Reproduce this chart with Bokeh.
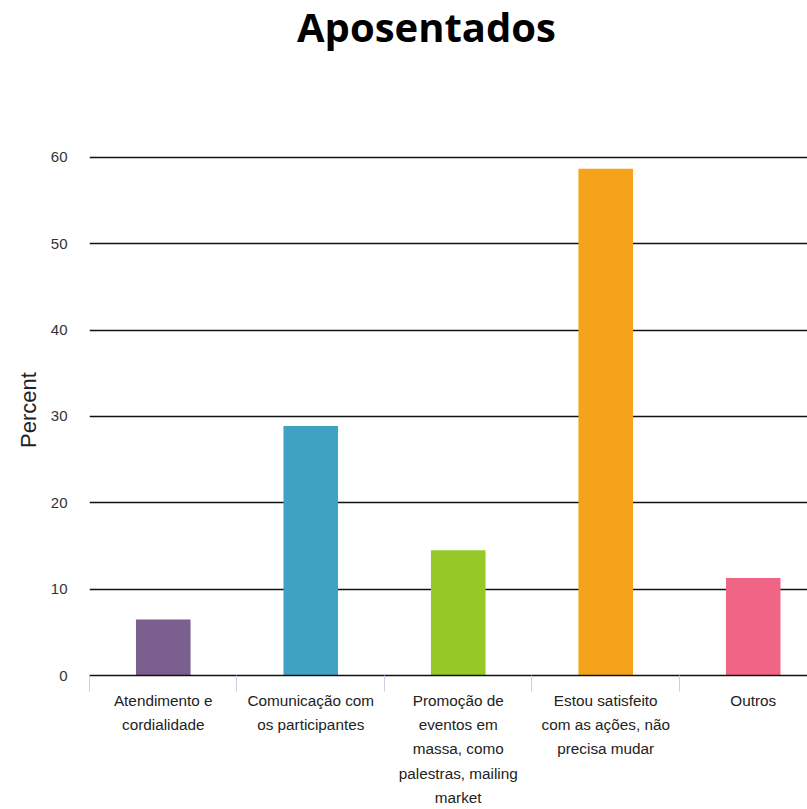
import numpy as np
from bokeh.plotting import figure
from bokeh.models import Range1d, FixedTicker, ColumnDataSource, Div
from bokeh.layouts import column
from bokeh.embed import file_html
from bokeh.resources import INLINE

title_text = "Aposentados"
categories = [
    "Atendimento e\ncordialidade",
    "Comunicação com\nos participantes",
    "Promoção de\neventos em\nmassa, como\npalestras, mailing\nmarket",
    "Estou satisfeito\ncom as ações, não\nprecisa mudar",
    "Outros",
]
percent = [6.5, 28.9, 14.5, 58.7, 11.3]
colors = ["#7B5F8E", "#40A2C2", "#96C827", "#F4A31B", "#F06485"]
y_ticks = [0, 10, 20, 30, 40, 50, 60]

n = len(categories)
centers = [i + 0.5 for i in range(n)]
boundaries = [float(i) for i in range(n)]

src = ColumnDataSource(dict(x=centers, top=percent, color=colors))

title_div = Div(
    text=('<div style="padding-left:297px; font-family:\'Open Sans\'; '
          'font-weight:bold; font-size:40px; line-height:1.36; color:black; margin:0;">'
          + title_text + '</div>'),
    width=807, height=60, margin=(0, 0, 0, 0))

p = figure(width=807, height=749, output_backend="svg", toolbar_location=None,
           x_range=Range1d(0, 4.868), y_range=Range1d(0, 61.5),
           min_border_left=89, min_border_right=0, min_border_top=84,
           min_border_bottom=133, outline_line_color=None, margin=(0, 0, 0, 0))

p.vbar(x="x", top="top", width=0.37, bottom=0, color="color", line_color=None, source=src)

p.xgrid.grid_line_color = None
p.ygrid.grid_line_color = "#111111"
p.ygrid.grid_line_width = 1.4
p.ygrid.ticker = FixedTicker(ticks=y_ticks)

ya = p.yaxis[0]
ya.ticker = FixedTicker(ticks=y_ticks)
ya.axis_line_color = None
ya.major_tick_line_color = None
ya.minor_tick_line_color = None
ya.major_tick_out = 0
ya.major_label_standoff = 22
ya.major_label_text_font = "Liberation Sans"
ya.major_label_text_font_size = "15px"
ya.major_label_text_color = "#333333"
ya.axis_label = "Percent"
ya.axis_label_text_font = "Liberation Sans"
ya.axis_label_text_font_size = "22px"
ya.axis_label_text_font_style = "normal"
ya.axis_label_text_color = "#222222"
ya.axis_label_standoff = 7

xa = p.xaxis[0]
xa.ticker = FixedTicker(ticks=centers, minor_ticks=boundaries)
xa.major_label_overrides = {c: lab for c, lab in zip(centers, categories)}
xa.axis_line_color = "#111111"
xa.axis_line_width = 1.4
xa.major_tick_line_color = None
xa.major_tick_out = 0
xa.major_tick_in = 0
xa.minor_tick_line_color = "#C9D1E2"
xa.minor_tick_line_width = 1
xa.minor_tick_out = 16
xa.minor_tick_in = 0
xa.major_label_standoff = 0
xa.major_label_text_font = "Liberation Sans"
xa.major_label_text_font_size = "15.3px"
xa.major_label_text_color = "#222222"
xa.major_label_text_line_height = 1.44

layout = column(title_div, p, spacing=0)
open("out.html", "w").write(file_html(layout, INLINE))
